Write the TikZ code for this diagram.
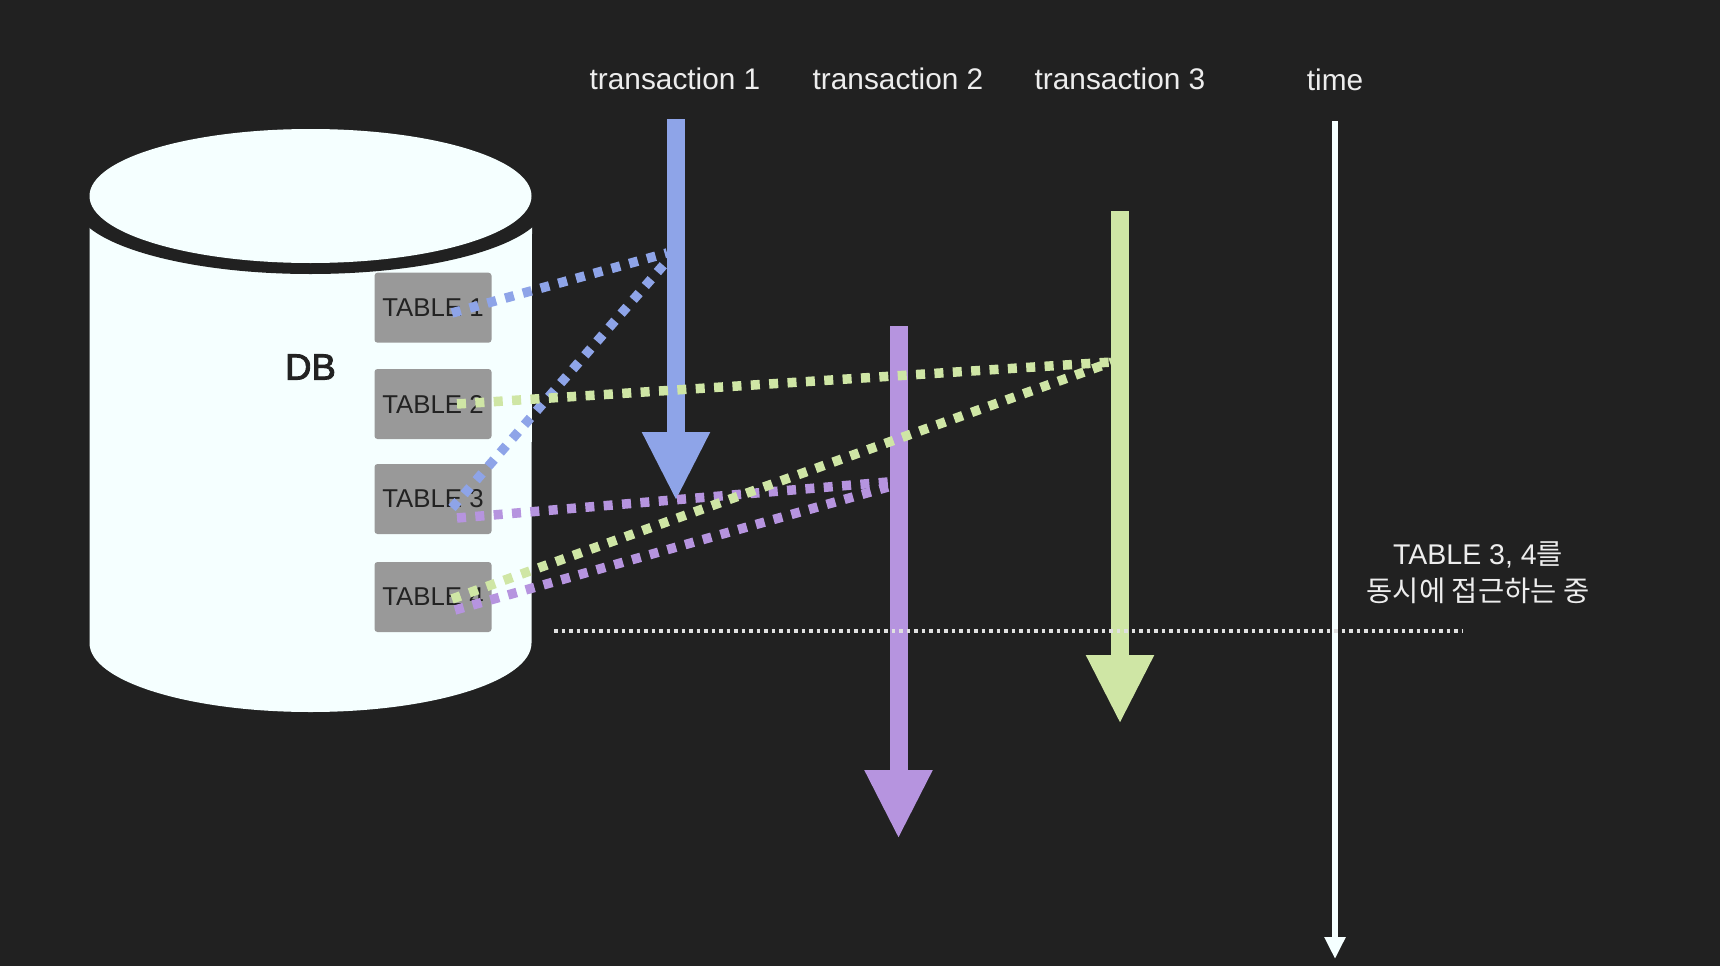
\documentclass[tikz,border=0pt]{standalone}
\usepackage{fontspec}
\setmainfont{Liberation Sans}
\newfontfamily\cjk{Noto Sans CJK KR}
\newfontfamily\dbfont[FakeBold=2.5]{Liberation Sans}
\usetikzlibrary{arrows.meta}
\definecolor{bgc}{HTML}{212121}
\definecolor{cyl}{HTML}{F5FFFF}
\definecolor{tb}{HTML}{999999}
\definecolor{ink}{HTML}{222222}
\definecolor{lbl}{HTML}{EDEDED}
\definecolor{sepc}{HTML}{E0E0E0}
\definecolor{blu}{HTML}{8EA4E8}
\definecolor{pur}{HTML}{B694DF}
\definecolor{grn}{HTML}{CFE6A5}
\tikzset{
  tablebox/.style={fill=tb,rounded corners=3pt,minimum width=117pt,minimum height=70pt,inner sep=0pt,text=ink,font=\fontsize{25.8}{25.8}\selectfont},
  toplabel/.style={text=lbl,inner sep=0pt,font=\fontsize{29.8}{29.8}\selectfont},
  txarrow/.style={line width=18pt,-{Triangle[length=69pt,width=63pt]}},
  dots/.style={line width=9.5pt,dash pattern=on 9pt off 9.4pt},
  timeline/.style={draw=cyl,line width=5.5pt,-{Triangle[length=22pt,width=20pt]}},
  sepline/.style={draw=sepc,line width=3.2pt,dash pattern=on 3.5pt off 4pt}
}
\begin{document}
\begin{tikzpicture}[x=1pt,y=-1pt]
\fill[bgc] (0,0) rectangle (1720,966);
\useasboundingbox (0,0) rectangle (1720,966);
% cylinder
\fill[cyl] (89.5,227) -- (89.5,643) arc[start angle=180,end angle=360,x radius=221,y radius=-69] -- (532,227) -- cycle;
\fill[bgc] (310.5,203) ellipse[x radius=236,y radius=71];
\fill[cyl] (310.5,196) ellipse[x radius=221,y radius=67];
\node[text=ink,inner sep=0pt,font=\dbfont\fontsize{36.5}{36.5}\selectfont] (db) at (310.5,367) {DB};
% tables
\node[tablebox] (t1) at (433,307.7) {TABLE 1};
\node[tablebox] (t2) at (433,404) {TABLE 2};
\node[tablebox] (t3) at (433,499) {TABLE 3};
\node[tablebox] (t4) at (433,597) {TABLE 4};
% labels
\node[toplabel] (l1) at (675,79) {transaction 1};
\node[toplabel] (l2) at (898,79) {transaction 2};
\node[toplabel] (l3) at (1120,79) {transaction 3};
\node[toplabel] (l4) at (1335,80) {time};
\node[text=lbl,inner sep=0pt,align=center,font=\fontsize{28.5}{37}\selectfont] (note) at (1478,573) {TABLE 3, 4{\cjk 를}\\{\cjk 동시에 접근하는 중}};
% end points
\coordinate (a1s) at (676,119);
\coordinate (a1e) at (676,501);
\coordinate (a2s) at (898.5,326);
\coordinate (a2e) at (898.5,839);
\coordinate (a3s) at (1120,211);
\coordinate (a3e) at (1120,724);
\coordinate (tms) at (1335,121);
\coordinate (tme) at (1335,959);
\coordinate (sl) at (554,631);
\coordinate (sr) at (1462,631);
\coordinate (b0) at (667,253);
\coordinate (b1) at (667,261);
\coordinate (b2) at (452,313);
\coordinate (b3) at (452,508);
\coordinate (g0) at (1112,362);
\coordinate (g1) at (457,404);
\coordinate (g2) at (452,599);
\coordinate (p0) at (888,482);
\coordinate (p00) at (888,487);
\coordinate (p1) at (457,518);
\coordinate (p2) at (455,610);
% arrows and separator
\draw[txarrow,blu] (a1s) -- (a1e);
\draw[txarrow,pur] (a2s) -- (a2e);
\draw[txarrow,grn] (a3s) -- (a3e);
\draw[timeline] (tms) -- (tme);
\draw[sepline] (sl) -- (sr);
% dotted links
\draw[dots,blu] (b2) -- (b0);
\draw[dots,blu] (b3) -- (b1);
\draw[dots,pur] (p1) -- (p0);
\draw[dots,pur] (p2) -- (p00);
\draw[dots,grn] (g1) -- (g0);
\draw[dots,grn] (g2) -- (g0);
\end{tikzpicture}
\end{document}
